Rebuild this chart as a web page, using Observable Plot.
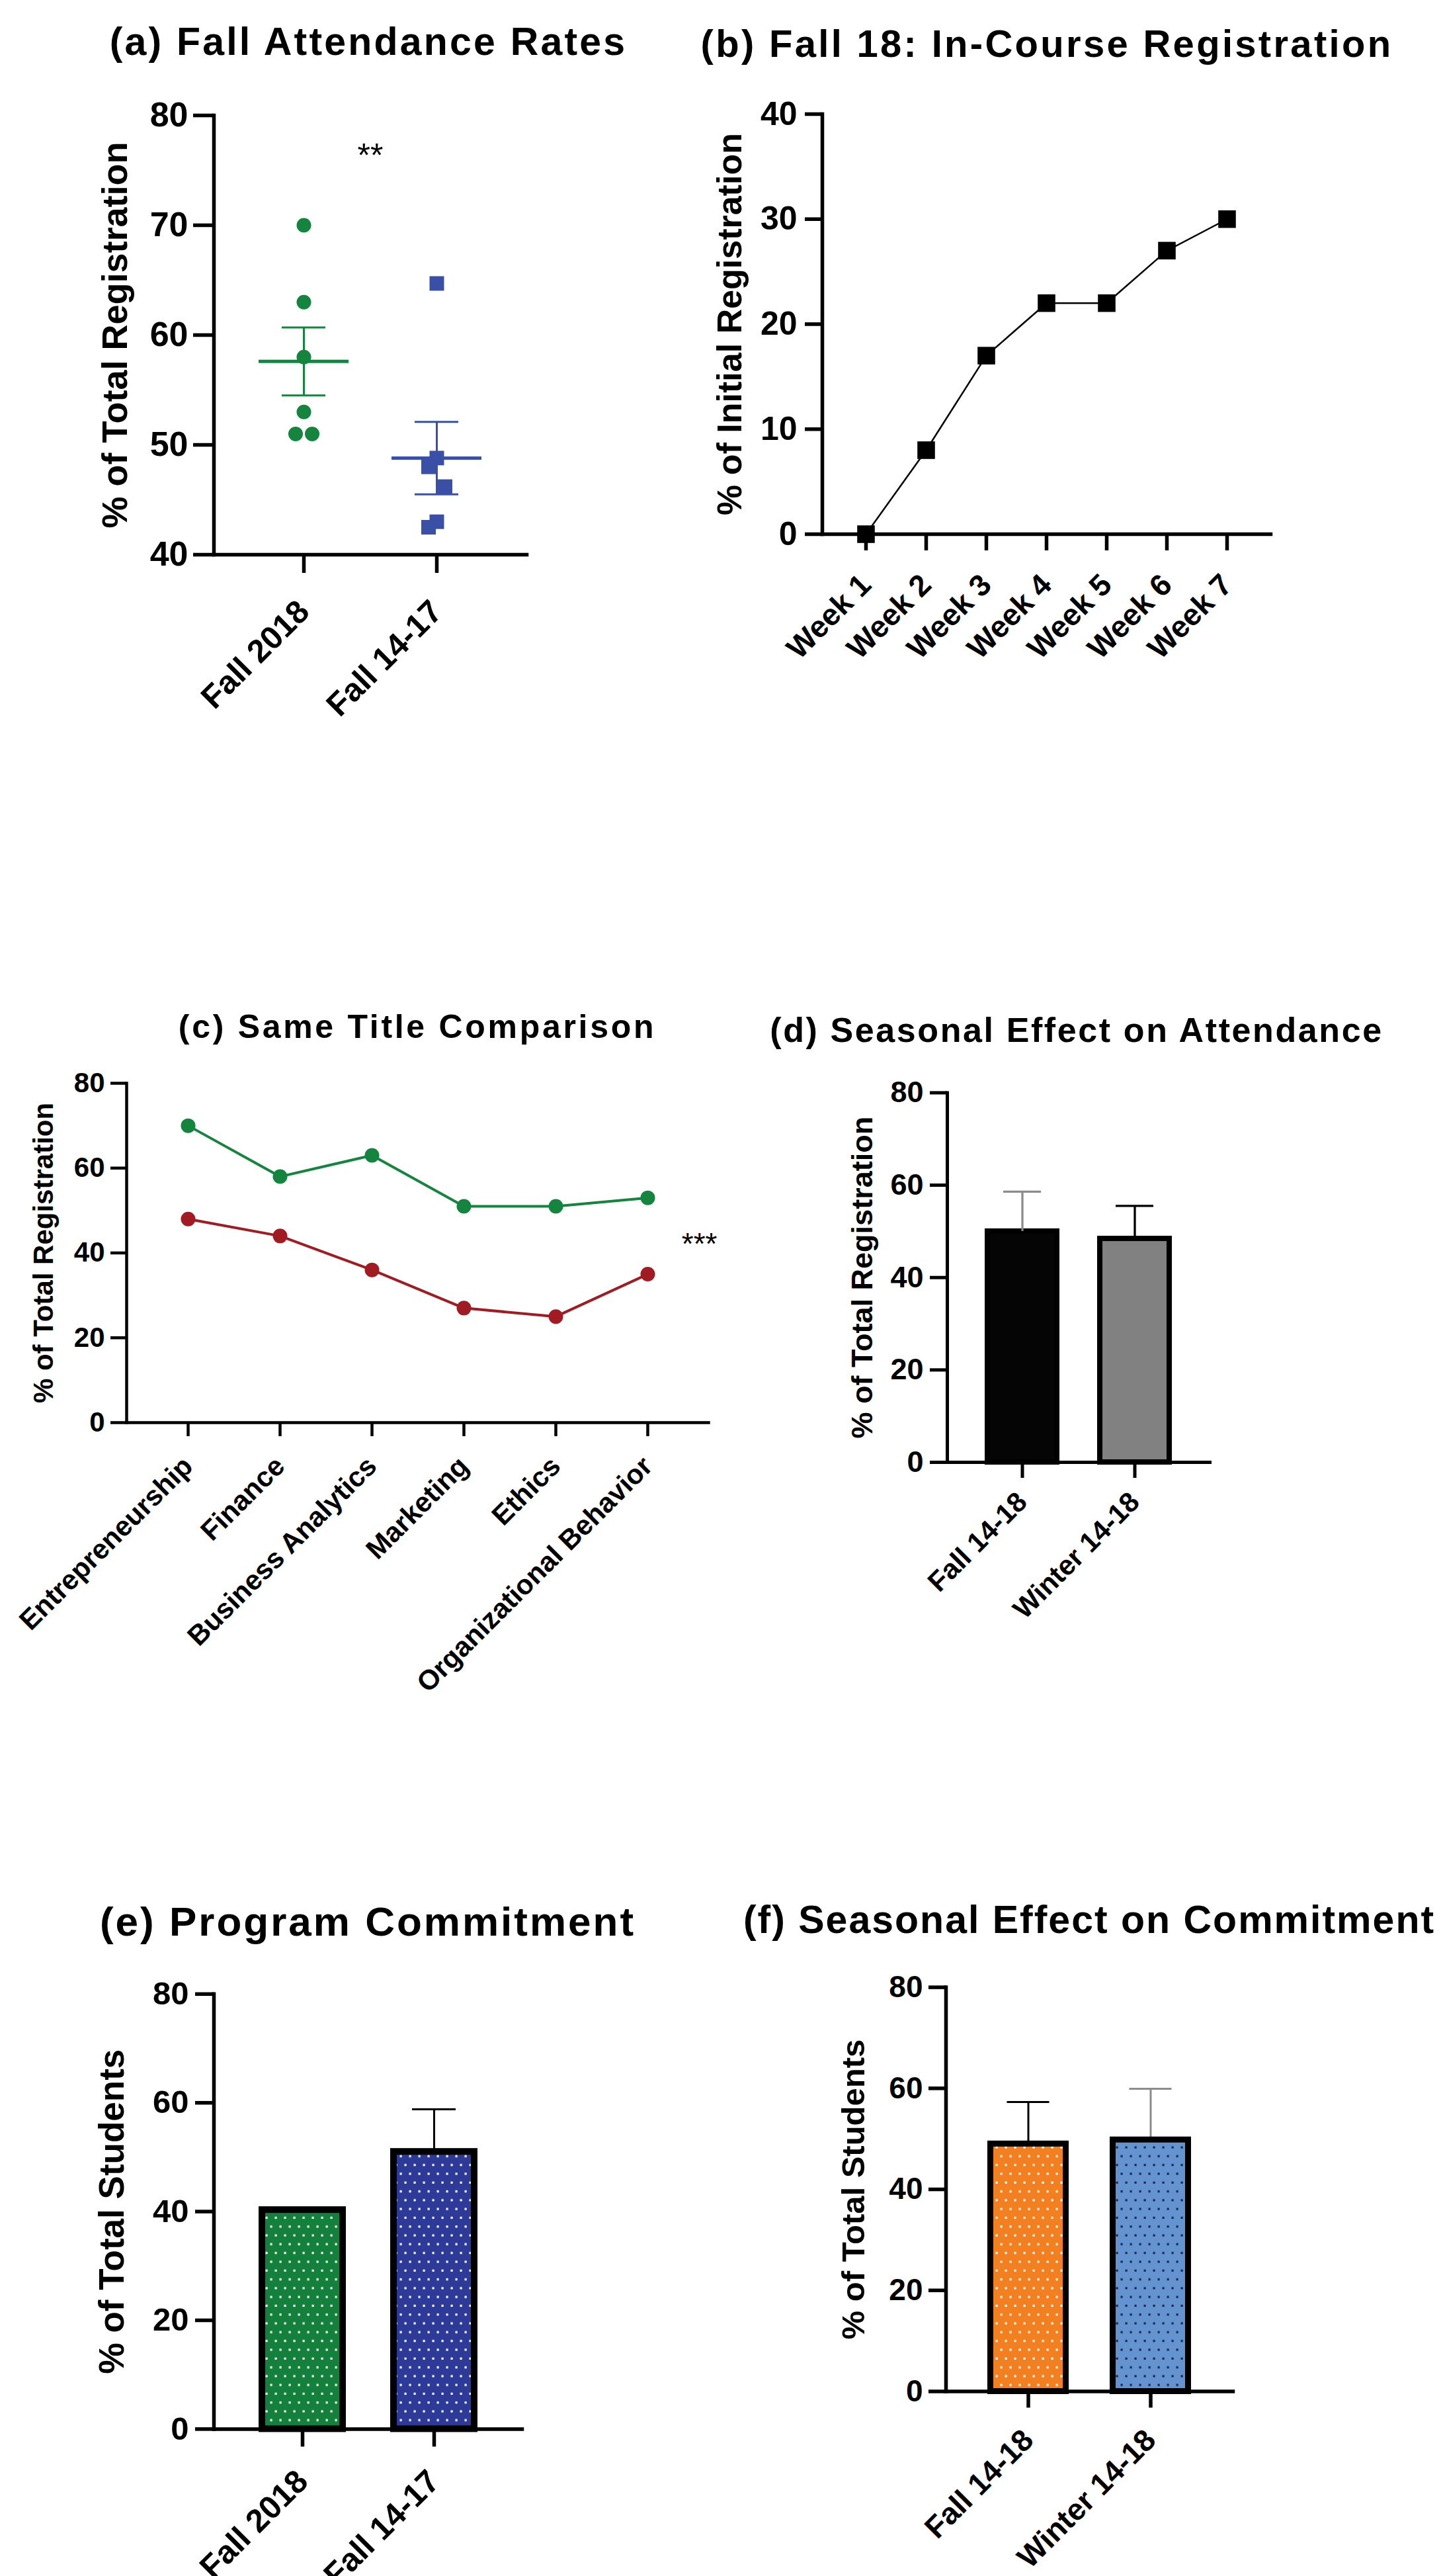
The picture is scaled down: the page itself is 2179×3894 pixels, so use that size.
<!DOCTYPE html>
<html>
<head>
<meta charset="utf-8">
<script src="https://cdn.jsdelivr.net/npm/d3@7"></script>
<script src="https://cdn.jsdelivr.net/npm/@observablehq/plot@0.6"></script>
<style>
  html, body { margin: 0; padding: 0; background: #fff; }
  #page { position: relative; width: 2179px; height: 3894px; background: #fff; overflow: hidden;
          font-family: "Liberation Sans", Arial, Helvetica, sans-serif; }
  .title { position: absolute; font-weight: bold; color: #000; white-space: nowrap; transform: translateX(-50%); }
</style>
</head>
<body>
<div id="page"></div>
<script>
// ---------------- DATA ----------------
// (a) Fall Attendance Rates
const attCategories = ["Fall 2018", "Fall 14-17"];
const attFall2018 = [70, 63, 58, 53, 51, 51];
const attFall1417 = [64.7, 48.8, 48.0, 46.2, 43.0, 42.5];
const attMean = [57.6, 48.8];
const attSem = [3.1, 3.3];
const attTicks = [40, 50, 60, 70, 80];
const attSignif = { text: "**", value: 76.3 };

// (b) Fall 18: In-Course Registration
const weeks = ["Week 1", "Week 2", "Week 3", "Week 4", "Week 5", "Week 6", "Week 7"];
const weekRegistration = [0, 8, 17, 22, 22, 27, 30];
const regTicks = [0, 10, 20, 30, 40];

// (c) Same Title Comparison
const courses = ["Entrepreneurship", "Finance", "Business Analytics", "Marketing", "Ethics", "Organizational Behavior"];
const sameTitleFall2018 = [70, 58, 63, 51, 51, 53];
const sameTitleFall1417 = [48, 44, 36, 27, 25, 35];
const sameSignif = { text: "***", value: 42 };

// (d) Seasonal Effect on Attendance
const seasonCategories = ["Fall 14-18", "Winter 14-18"];
const seasonAttMean = [50.0, 48.4];
const seasonAttErr = [8.6, 7.1];

// (e) Program Commitment
const commitCategories = ["Fall 2018", "Fall 14-17"];
const commitMean = [40.3, 51.0];
const commitErr = [null, 7.8];

// (f) Seasonal Effect on Commitment
const seasonCommitMean = [49.0, 49.8];
const seasonCommitErr = [8.3, 10.1];

const pctTicks = [0, 20, 40, 60, 80];

// ---------------- HELPERS ----------------
const page = document.getElementById("page");
const FONT = '"Liberation Sans", Arial, Helvetica, sans-serif';

function addTitle(text, cx, baseline, size, spacing) {
  const d = document.createElement("div");
  d.className = "title";
  d.textContent = text;
  d.style.fontSize = size + "px";
  d.style.lineHeight = size + "px";
  d.style.letterSpacing = spacing + "px";
  d.style.left = cx + "px";
  d.style.top = (baseline - 0.8465 * size) + "px";
  page.appendChild(d);
}

function addPlot(left, top, opts) {
  const svg = Plot.plot({
    ...opts,
    style: { fontFamily: FONT, fontWeight: "bold", color: "#000", background: "transparent", overflow: "visible", maxWidth: "none" }
  });
  svg.style.position = "absolute";
  svg.style.left = left + "px";
  svg.style.top = top + "px";
  page.appendChild(svg);
}

function axes({ yTicks, ySize, xSize, yFont, xFont, yPad = 9, xPad = 6, sw = 5.5, yLabel, yLabelFont, yLabelOffset }) {
  return [
    Plot.axisY({ ticks: yTicks, tickSize: ySize, tickPadding: yPad, fontSize: yFont, fontWeight: "bold", strokeWidth: sw, label: null }),
    Plot.axisX({ tickSize: xSize, tickPadding: xPad, tickRotate: -45, fontSize: xFont, fontWeight: "bold", strokeWidth: sw, label: null }),
    Plot.frame({ anchor: "left", strokeWidth: sw, strokeLinecap: "square" }),
    Plot.frame({ anchor: "bottom", strokeWidth: sw, strokeLinecap: "square" }),
    Plot.text([yLabel], { text: d => d, frameAnchor: "left", textAnchor: "middle", lineAnchor: "middle", rotate: -90, dx: -yLabelOffset, fontSize: yLabelFont, fontWeight: "bold" })
  ];
}

// simple dodge: place each value in the first column slot where it does not collide
function assignSlots(values, gap) {
  const placed = [];
  return values.map(v => {
    for (const s of [0, -1, 1, -2, 2]) {
      if (!placed.some(p => p.s === s && Math.abs(p.v - v) < gap)) { placed.push({ s, v }); return s; }
    }
    return 0;
  });
}

function patternDefs(list) {
  return () => {
    const defs = d3.create("svg:defs");
    for (const { id, bg, dot } of list) {
      const p = defs.append("pattern").attr("id", id).attr("patternUnits", "userSpaceOnUse")
        .attr("width", 14).attr("height", 26.6);
      p.append("rect").attr("width", 14).attr("height", 26.6).attr("fill", bg);
      p.append("rect").attr("x", 2.5).attr("y", 5.2).attr("width", 3.2).attr("height", 3.2).attr("fill", dot);
      p.append("rect").attr("x", 9.5).attr("y", 18.5).attr("width", 3.2).attr("height", 3.2).attr("fill", dot);
    }
    return defs.node();
  };
}

// ---------------- (a) ----------------
addTitle("(a) Fall Attendance Rates", 557, 84, 59, 3.2);
{
  const colors = ["#15843f", "#3a50a6"];
  const groups = [attFall2018, attFall1417];
  const pts = attCategories.flatMap((c, i) => {
    const slots = assignSlots(groups[i], 2.7);
    return groups[i].map((v, j) => ({ group: c, gi: i, value: v, slot: slots[j] }));
  });
  const summary = attCategories.map((c, i) => ({ group: c, mean: attMean[i], sem: attSem[i], color: colors[i] }));
  const dotMarks = [0, 1].flatMap(gi => [-1, 0, 1].map(s =>
    Plot.dot(pts.filter(d => d.gi === gi && d.slot === s), {
      x: "group", y: "value", r: gi === 0 ? 11 : 12.4, symbol: gi === 0 ? "circle" : "square",
      fill: colors[gi], dx: s * 12.5
    })));
  addPlot(0, 120, {
    width: 1000, height: 980, marginTop: 54, marginRight: 204, marginBottom: 262, marginLeft: 323,
    x: { type: "band", domain: attCategories, paddingInner: 0.325, paddingOuter: 0.335, align: 0.5 },
    y: { domain: [40, 80] },
    color: { type: "identity" },
    marks: [
      ...axes({ yTicks: attTicks, ySize: 31, xSize: 28, yFont: 52, xFont: 49, yPad: 8, xPad: 50,
                yLabel: "% of Total Registration", yLabelFont: 54, yLabelOffset: 149 }),
      ...dotMarks,
      Plot.tickY(summary, { x: "group", y: "mean", stroke: "color", strokeWidth: 5 }),
      Plot.ruleX(summary, { x: "group", y1: d => d.mean - d.sem, y2: d => d.mean + d.sem, stroke: "color", strokeWidth: 3 }),
      Plot.tickY(summary, { x: "group", y: d => d.mean + d.sem, stroke: "color", strokeWidth: 3, inset: 35 }),
      Plot.tickY(summary, { x: "group", y: d => d.mean - d.sem, stroke: "color", strokeWidth: 3, inset: 35 }),
      Plot.text([attSignif], { y: "value", text: "text", fontSize: 50, fontWeight: "normal" })
    ]
  });
}

// ---------------- (b) ----------------
addTitle("(b) Fall 18: In-Course Registration", 1583, 86, 58, 3.3);
{
  const data = weeks.map((w, i) => ({ week: w, value: weekRegistration[i] }));
  addPlot(1050, 120, {
    width: 1129, height: 900, marginTop: 52, marginRight: 258, marginBottom: 213, marginLeft: 193,
    x: { type: "point", domain: weeks, padding: 0.7, align: 0.5 },
    y: { domain: [0, 40] },
    marks: [
      ...axes({ yTicks: regTicks, ySize: 26, xSize: 25, yFont: 50, xFont: 46, yPad: 12, xPad: 44,
                yLabel: "% of Initial Registration", yLabelFont: 52, yLabelOffset: 139 }),
      Plot.line(data, { x: "week", y: "value", stroke: "#000", strokeWidth: 2.5 }),
      Plot.dot(data, { x: "week", y: "value", symbol: "square", r: 15, fill: "#000" })
    ]
  });
}

// ---------------- (c) ----------------
addTitle("(c) Same Title Comparison", 631, 1569, 50, 3.7);
{
  const series = [
    { values: sameTitleFall2018, color: "#15843f" },
    { values: sameTitleFall1417, color: "#a11b22" }
  ];
  const lineMarks = series.flatMap(s => {
    const data = courses.map((c, i) => ({ course: c, value: s.values[i] }));
    return [
      Plot.line(data, { x: "course", y: "value", stroke: s.color, strokeWidth: 4 }),
      Plot.dot(data, { x: "course", y: "value", r: 11, fill: s.color })
    ];
  });
  addPlot(0, 1590, {
    width: 1150, height: 1000, marginTop: 47, marginRight: 79, marginBottom: 440, marginLeft: 191,
    x: { type: "point", domain: courses, padding: 0.665, align: 0.5 },
    y: { domain: [0, 80] },
    marks: [
      ...axes({ yTicks: pctTicks, ySize: 24, xSize: 21, yFont: 42, xFont: 42, yPad: 9, xPad: 38, sw: 4.5,
                yLabel: "% of Total Registration", yLabelFont: 42, yLabelOffset: 125 }),
      ...lineMarks,
      Plot.text([sameSignif], { y: "value", text: "text", frameAnchor: "right", textAnchor: "end", dx: 13, fontSize: 46, fontWeight: "normal" })
    ]
  });
}

// ---------------- (d) ----------------
addTitle("(d) Seasonal Effect on Attendance", 1628, 1575, 52, 2.6);
{
  const fills = ["#050505", "#818181"];
  const errColors = ["#8c8c8c", "#000"];
  const data = seasonCategories.map((c, i) => ({ cat: c, mean: seasonAttMean[i], err: seasonAttErr[i], fill: fills[i], ec: errColors[i] }));
  addPlot(1150, 1600, {
    width: 1029, height: 900, marginTop: 51.4, marginRight: 350, marginBottom: 290, marginLeft: 282,
    x: { type: "band", domain: seasonCategories, paddingInner: 0.335, paddingOuter: 0.335, align: 0.5 },
    y: { domain: [0, 80] },
    color: { type: "identity" },
    marks: [
      Plot.barY(data, { x: "cat", y: "mean", fill: "fill", stroke: "#000", strokeWidth: 8, insetLeft: 4, insetRight: 4 }),
      Plot.ruleX(data, { x: "cat", y1: "mean", y2: d => d.mean + d.err, stroke: "ec", strokeWidth: 3.3 }),
      Plot.tickY(data, { x: "cat", y: d => d.mean + d.err, stroke: "ec", strokeWidth: 3.3, inset: 28 }),
      ...axes({ yTicks: pctTicks, ySize: 26, xSize: 24, yFont: 45, xFont: 42, yPad: 10, xPad: 29, sw: 5,
                yLabel: "% of Total Registration", yLabelFont: 45, yLabelOffset: 128 })
    ]
  });
}

// ---------------- (e) ----------------
addTitle("(e) Program Commitment", 556, 2926, 62, 3);
{
  const fills = ["url(#patE0)", "url(#patE1)"];
  const data = commitCategories.map((c, i) => ({ cat: c, mean: commitMean[i], err: commitErr[i], fill: fills[i] }));
  const withErr = data.filter(d => d.err != null);
  addPlot(0, 2960, {
    width: 1090, height: 934, marginTop: 53.8, marginRight: 301, marginBottom: 222.6, marginLeft: 323,
    x: { type: "band", domain: commitCategories, paddingInner: 0.337, paddingOuter: 0.337, align: 0.5 },
    y: { domain: [0, 80] },
    color: { type: "identity" },
    marks: [
      patternDefs([{ id: "patE0", bg: "#13803c", dot: "#ffffff" }, { id: "patE1", bg: "#2e3a97", dot: "#ffffff" }]),
      Plot.ruleX(withErr, { x: "cat", y1: "mean", y2: d => d.mean + d.err, stroke: "#000", strokeWidth: 3 }),
      Plot.tickY(withErr, { x: "cat", y: d => d.mean + d.err, stroke: "#000", strokeWidth: 3, inset: 33 }),
      Plot.barY(data, { x: "cat", y: "mean", fill: "fill", stroke: "#000", strokeWidth: 10, insetLeft: 5, insetRight: 5 }),
      ...axes({ yTicks: pctTicks, ySize: 28, xSize: 27, yFont: 49, xFont: 49, yPad: 10, xPad: 44,
                yLabel: "% of Total Students", yLabelFont: 53, yLabelOffset: 153 })
    ]
  });
}

// ---------------- (f) ----------------
addTitle("(f) Seasonal Effect on Commitment", 1647, 2923, 59, 2);
{
  const fills = ["url(#patF0)", "url(#patF1)"];
  const errColors = ["#000", "#8c8c8c"];
  const data = seasonCategories.map((c, i) => ({ cat: c, mean: seasonCommitMean[i], err: seasonCommitErr[i], fill: fills[i], ec: errColors[i] }));
  addPlot(1090, 2960, {
    width: 1089, height: 934, marginTop: 43.6, marginRight: 315, marginBottom: 279.5, marginLeft: 340,
    x: { type: "band", domain: seasonCategories, paddingInner: 0.335, paddingOuter: 0.34, align: 0.5 },
    y: { domain: [0, 80] },
    color: { type: "identity" },
    marks: [
      patternDefs([{ id: "patF0", bg: "#f27f20", dot: "#ffffff" }, { id: "patF1", bg: "#6394d0", dot: "#1b2545" }]),
      Plot.ruleX(data, { x: "cat", y1: "mean", y2: d => d.mean + d.err, stroke: "ec", strokeWidth: 3 }),
      Plot.tickY(data, { x: "cat", y: d => d.mean + d.err, stroke: "ec", strokeWidth: 3, inset: 29.5 }),
      Plot.barY(data, { x: "cat", y: "mean", fill: "fill", stroke: "#000", strokeWidth: 9, insetLeft: 4.5, insetRight: 4.5 }),
      ...axes({ yTicks: pctTicks, ySize: 26, xSize: 25, yFont: 46, xFont: 46, yPad: 9, xPad: 41,
                yLabel: "% of Total Students", yLabelFont: 49, yLabelOffset: 139 })
    ]
  });
}
</script>
</body>
</html>
